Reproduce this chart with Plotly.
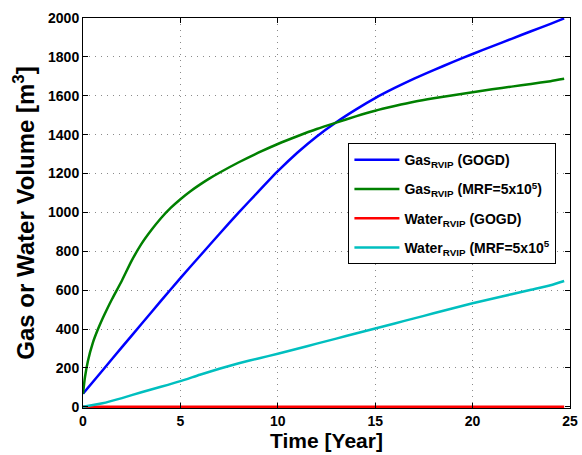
import plotly.graph_objects as go

t_gas_gogd = [0, 1, 2, 3, 4, 5, 6, 7, 8, 9, 10, 11, 12, 13, 14, 15, 16, 17, 18, 19, 20, 21, 22, 23, 24, 24.7]
gas_gogd = [67, 187, 307, 426, 545, 662, 776, 889, 1000, 1107, 1212, 1307, 1391, 1464,
            1529, 1588, 1640, 1688, 1732, 1774, 1815, 1854, 1893, 1932, 1970, 1998]

t_gas_mrf = [0, 0.1, 0.25, 0.5, 0.75, 1, 1.25, 1.5, 2, 2.5, 3, 3.5, 4, 4.5, 5, 5.5, 6, 6.5, 7, 8, 9, 10,
             11, 12, 13, 14, 15, 16, 17, 18, 19, 20, 21, 22, 23, 24, 24.7]
gas_mrf = [67, 152, 235, 328, 395, 453, 506, 556, 650, 752, 838, 908, 970, 1023, 1068, 1108, 1143,
           1175, 1204, 1258, 1307, 1352, 1392, 1429, 1462, 1494, 1523, 1547, 1569, 1587, 1603,
           1618, 1633, 1647, 1661, 1675, 1687]

t_water_gogd = [0, 24.7]
water_gogd = [0, 0]

t_water_mrf = [0, 1, 2, 3, 4, 5, 6, 7, 8, 9, 10, 11, 12, 13, 14, 15, 16, 17, 18, 19, 20,
               21, 22, 23, 24, 24.7]
water_mrf = [0, 18, 45, 75, 103, 132, 165, 196, 224, 249, 273, 299, 325, 351, 377, 403,
             429, 455, 481, 507, 533, 556, 579, 602, 625, 647]

names = ["Gas<sub>RVIP</sub> (GOGD)", "Gas<sub>RVIP</sub> (MRF=5x10<sup>5</sup>)",
         "Water<sub>RVIP</sub> (GOGD)", "Water<sub>RVIP</sub> (MRF=5x10<sup>5</sup>"]
colors = ["#0000ff", "#008000", "#ff0000", "#00bfbf"]

fig = go.Figure()
series = [(t_gas_gogd, gas_gogd), (t_gas_mrf, gas_mrf),
          (t_water_gogd, water_gogd), (t_water_mrf, water_mrf)]
for i, ((xs, ys), n, c) in enumerate(zip(series, names, colors)):
    fig.add_trace(go.Scatter(x=xs, y=ys, name=n, mode="lines", legendgroup=f"g{i}",
                             line=dict(color=c, width=2.5, shape="spline", smoothing=0.6)))

bold14 = dict(family="Liberation Sans", size=14, color="black", weight="bold")
axis_common = dict(showline=True, linecolor="black", linewidth=1, mirror="ticks",
                   ticks="inside", ticklen=5, tickcolor="black",
                   showgrid=True, gridcolor="#8a8a8a", griddash="1px,5px", gridwidth=1,
                   zeroline=False, tickfont=bold14, ticklabeloverflow="allow")

fig.update_layout(
    width=582, height=455,
    margin=dict(l=83, r=4, t=18, b=47),
    paper_bgcolor="white", plot_bgcolor="white",
    font=dict(family="Liberation Sans", color="black", weight="bold"),
    xaxis=dict(range=[0, 25], tickvals=[0, 5, 10, 15, 20, 25],
               title=dict(text="Time [Year]", font=dict(size=21, family="Liberation Sans", weight="bold"), standoff=3),
               **axis_common),
    yaxis=dict(range=[-6, 2000], tickvals=list(range(0, 2001, 200)),
               title=dict(text="Gas or Water Volume [m<sup>3</sup>]", font=dict(size=24, family="Liberation Sans", weight="bold"), standoff=6),
               **axis_common),
    legend=dict(x=0.545, y=0.679, xanchor="left", yanchor="top",
                bgcolor="white", bordercolor="black", borderwidth=1,
                font=bold14, tracegroupgap=8, itemwidth=45),
    showlegend=True,
)

fig.write_html("out.html")
